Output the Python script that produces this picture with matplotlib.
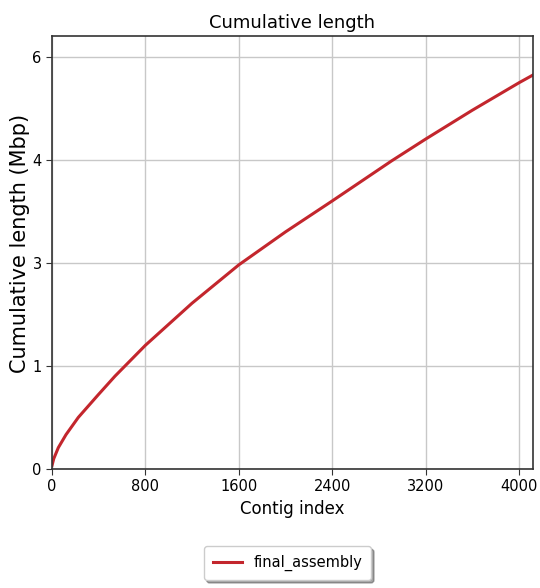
import matplotlib
matplotlib.use('Agg')
from matplotlib import pyplot as plt

# contig index vs cumulative length (Mbp)
contig_index = [0, 15, 54, 120, 225, 396, 539, 800, 1198, 1600, 2000, 2400, 2906, 3200, 3600, 4000, 4117]
cum_length = [0.05, 0.15, 0.31, 0.50, 0.75, 1.08, 1.35, 1.80, 2.41, 2.97, 3.45, 3.90, 4.48, 4.80, 5.22, 5.62, 5.73]

x_ticks = [0, 800, 1600, 2400, 3200, 4000]
y_ticks = [0, 1.5, 3, 4.5, 6]
y_tick_labels = ['0', '1', '3', '4', '6']

plt.rcParams['font.family'] = ['DejaVu Sans']

fig = plt.figure(figsize=(5.4, 5.88), dpi=100)
ax = fig.add_axes([0.0963, 0.2024, 0.8902, 0.7364])

ax.plot(contig_index, cum_length, color='#c3262d', lw=2.2, label='final_assembly')

ax.set_xlim(0, 4117)
ax.set_ylim(0, 6.3)
ax.set_xticks(x_ticks)
ax.set_yticks(y_ticks)
ax.set_yticklabels(y_tick_labels)
ax.tick_params(labelsize=10.5, length=4, color='#333333')
ax.grid(True, color='#c8c8c8', lw=1)
ax.set_axisbelow(True)
for s in ax.spines.values():
    s.set_color('#333333')
    s.set_linewidth(1.2)

ax.set_title('Cumulative length', fontsize=13, pad=6)
ax.set_xlabel('Contig index', fontsize=12, labelpad=4)
ax.set_ylabel('Cumulative length (Mbp)', fontsize=15)
ax.yaxis.set_label_coords(-0.045, 0.52)

leg = ax.legend(loc='upper center', bbox_to_anchor=(0.49, -0.162), fancybox=True,
                shadow=True, fontsize=10.5, handlelength=2.0, borderpad=0.6)

fig.savefig('out.png', dpi=100)
